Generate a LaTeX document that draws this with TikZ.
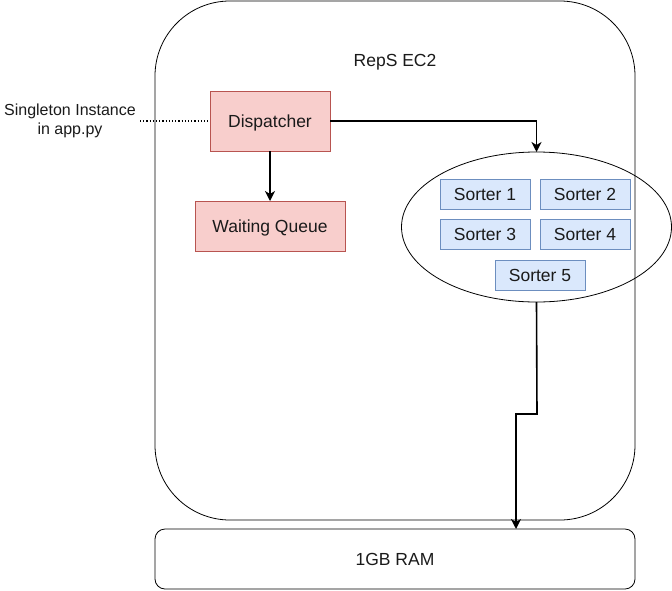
\documentclass[tikz,border=0pt]{standalone}
\usepackage{fontspec}
\setmainfont{Liberation Sans}
\usetikzlibrary{arrows.meta,shapes.geometric}
\definecolor{redfill}{HTML}{F8CECC}
\definecolor{reddraw}{HTML}{B85450}
\definecolor{bluefill}{HTML}{DAE8FC}
\definecolor{bluedraw}{HTML}{6C8EBF}
\definecolor{txt}{HTML}{1A1A1A}
\tikzset{
  base/.style={inner sep=0pt, outer sep=0pt, font=\fontsize{17.5}{21}\selectfont, text=txt, text height=16pt, text depth=3.4pt},
  redbox/.style={base, rectangle, draw=reddraw, fill=redfill, line width=0.8pt},
  sorterbox/.style={base, rectangle, draw=bluedraw, fill=bluefill, line width=0.8pt, minimum width=90pt, minimum height=30pt},
  arr/.style={line width=1.6pt, -{Stealth[length=10pt,width=10pt,inset=3pt]}},
  lbl/.style={inner sep=0pt, outer sep=0pt, text=txt, align=center, font=\fontsize{16}{19}\selectfont},
}
\begin{document}
\begin{tikzpicture}[x=1pt,y=-1pt]
\useasboundingbox (0,0) rectangle (672,590);
\node[base, draw=black, line width=0.8pt, rounded corners=75pt, minimum width=480pt, minimum height=519pt] (ec2) at (395,260.5) {};
\node[base] (ec2lbl) at (395,60) {RepS EC2};
\node[base, draw=black, line width=0.8pt, rounded corners=10pt, minimum width=480pt, minimum height=60pt] (ram) at (395,559) {1GB RAM};
\node[redbox, minimum width=120pt, minimum height=60pt] (disp) at (270,121) {Dispatcher};
\node[redbox, minimum width=150pt, minimum height=50pt] (wq) at (270,226) {Waiting Queue};
\node[base, ellipse, draw=black, line width=0.8pt, minimum width=270pt, minimum height=150pt] (sorters) at (536.5,227) {};
\node[sorterbox] (s1) at (485,194) {Sorter 1};
\node[sorterbox] (s2) at (585,194) {Sorter 2};
\node[sorterbox] (s3) at (485,234) {Sorter 3};
\node[sorterbox] (s4) at (585,234) {Sorter 4};
\node[sorterbox] (s5) at (540,275) {Sorter 5};
\node[lbl] (single) at (70,121) {Singleton Instance\\in app.py};
\coordinate (dotstart) at (140,121);
\draw[line width=1.2pt, dotted] (dotstart) -- (disp.west);
\draw[arr] (disp.east) -| (sorters.north);
\draw[arr] (disp.south) -- (wq.north);
\coordinate (b1) at (537,414);
\coordinate (b2) at (516,414);
\draw[arr] (sorters.south) -- (b1) -- (b2) -- (b2 |- ram.north);
\end{tikzpicture}
\end{document}
